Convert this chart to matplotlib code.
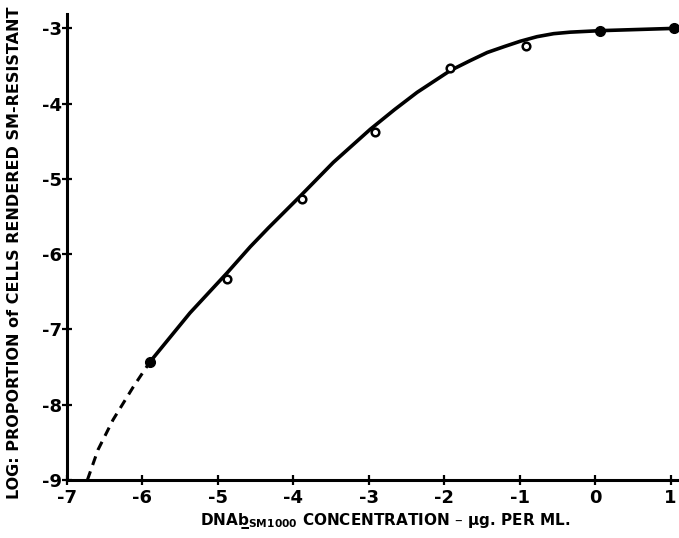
import matplotlib
matplotlib.use("Agg")
import matplotlib.pyplot as plt

# Data
filled_x = [-5.9, 0.06, 1.04]
filled_y = [-7.43, -3.04, -3.0]
open_x = [-4.88, -3.88, -2.92, -1.92, -0.92]
open_y = [-6.33, -5.27, -4.38, -3.52, -3.23]

curve_x = [-5.9, -5.37, -4.88, -4.57, -4.33, -3.91, -3.47, -2.98, -2.66, -2.36,
           -1.92, -1.66, -1.43, -1.2, -0.99, -0.77, -0.55, -0.33, 0.07, 1.04]
curve_y = [-7.43, -6.78, -6.25, -5.90, -5.65, -5.23, -4.78, -4.34, -4.08, -3.85,
           -3.56, -3.43, -3.32, -3.24, -3.17, -3.11, -3.07, -3.05, -3.03, -3.0]

dash_x = [-6.73, -6.59, -6.39, -6.12, -5.9]
dash_y = [-9.0, -8.6, -8.2, -7.76, -7.43]

xticks = [-7, -6, -5, -4, -3, -2, -1, 0, 1]
yticks = [-9, -8, -7, -6, -5, -4, -3]

plt.rcParams['mathtext.default'] = 'bf'
fig = plt.figure(figsize=(6.79, 5.38), dpi=100)
ax = fig.add_axes([0.0987, 0.1078, 0.9, 0.866])

ax.plot(curve_x, curve_y, color='black', lw=2.6, solid_capstyle='round',
        solid_joinstyle='round')
ax.plot(dash_x, dash_y, color='black', lw=2.2, dashes=(3.0, 2.2))
ax.plot(filled_x, filled_y, 'o', color='black', ms=7, clip_on=False)
ax.plot(open_x, open_y, 'o', mfc='white', mec='black', mew=1.8, ms=5.5)

ax.set_xlim(-7, 1.1)
ax.set_ylim(-9, -2.81)
for s in ['top', 'right']:
    ax.spines[s].set_visible(False)
for s in ['left', 'bottom']:
    ax.spines[s].set_linewidth(2.2)

ax.set_xticks(xticks)
ax.set_yticks(yticks)
ax.set_xticklabels([f"{t:d}" for t in xticks], fontsize=13, fontweight='bold')
ax.set_yticklabels([f"{t:d}" for t in yticks], fontsize=13, fontweight='bold')
ax.tick_params(direction='inout', length=7, width=1.6)
ax.tick_params(axis='y', pad=0)
ax.tick_params(axis='x', pad=3)

fig.text(0.022, 0.53, "LOG: PROPORTION of CELLS RENDERED SM-RESISTANT",
         rotation=90, ha='center', va='center', fontsize=11.5, fontweight='bold')
fig.text(0.567, 0.032,
         "DNAb\u0332$_{\\mathbf{SM1000}}$ CONCENTRATION – $\\mathbf{\\mu}$g. PER ML.",
         ha='center', va='center', fontsize=11, fontweight='bold')

fig.savefig("out.png", dpi=100, facecolor='white')
